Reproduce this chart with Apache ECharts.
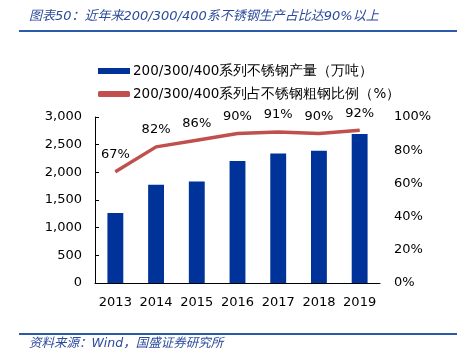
<!DOCTYPE html>
<html><head><meta charset="utf-8">
<script src="https://cdn.jsdelivr.net/npm/echarts@6/dist/echarts.min.js"></script>
<style>html,body{margin:0;padding:0;background:#fff}#c{width:457px;height:362px}</style>
</head><body><div id="c"></div>
<script>
const years = ['2013','2014','2015','2016','2017','2018','2019'];
const output = [1265, 1777, 1836, 2205, 2340, 2390, 2695];
const share = [67, 82, 86, 90, 91, 90, 92];
const barName = '200/300/400系列不锈钢产量（万吨）';
const lineName = '200/300/400系列占不锈钢粗钢比例（%）';
const titleText = '图表50：近年来200/300/400系不锈钢生产占比达90%以上';
const sourceText = '资料来源：Wind，国盛证券研究所';

const chart = echarts.init(document.getElementById('c'));
const font = 'DejaVu Sans, Verdana, sans-serif';
chart.setOption({
  animation: false,
  textStyle: {fontFamily: font},
  graphic: [
    {type:'text', left: 29, top: 10, style:{text: titleText, fill:'#2b4a9c', font:'italic 13px "DejaVu Sans", "Noto Sans CJK SC", sans-serif'}},
    {type:'rect', shape:{x:19, y:30, width:438, height:2}, style:{fill:'#2a5aa8'}},
    {type:'rect', shape:{x:19, y:333, width:438, height:2}, style:{fill:'#2a5aa8'}},
    {type:'text', left: 29, top: 337, style:{text: sourceText, fill:'#2b4a9c', font:'italic 12.5px "DejaVu Sans", "Noto Sans CJK SC", sans-serif'}}
  ],
  legend: {
    orient: 'vertical', left: 93, top: 59, itemGap: 9,
    itemWidth: 32, itemHeight: 6,
    textStyle: {fontSize: 13.5, color: '#000', fontFamily: font, padding: [0, 0, 0, -2]},
    data: [{name: barName, icon: 'rect'}, {name: lineName, icon: 'roundRect'}]
  },
  grid: {left: 95, right: 77, top: 117, bottom: 79},
  xAxis: {
    type: 'category', data: years,
    axisLine: {lineStyle: {color: '#000', width: 1}},
    axisTick: {show: false},
    axisLabel: {color: '#000', fontSize: 13, margin: 13, interval: 0}
  },
  yAxis: [
    {type: 'value', min: 0, max: 3000, interval: 500,
     axisLine: {show: true, lineStyle: {color: '#000'}},
     axisTick: {show: true, inside: true, length: 4, lineStyle: {color: '#000'}},
     splitLine: {show: false},
     axisLabel: {color: '#000', fontSize: 13, margin: 13, formatter: v => v.toLocaleString('en-US')}},
    {type: 'value', min: 0, max: 100, interval: 20,
     axisLine: {show: false}, axisTick: {show: false}, splitLine: {show: false},
     axisLabel: {color: '#000', fontSize: 13, margin: 14, formatter: '{value}%'}}
  ],
  series: [
    {name: barName, type: 'bar', data: output, barWidth: '39%',
     itemStyle: {color: '#003399'}},
    {name: lineName, type: 'line', yAxisIndex: 1, data: share,
     symbol: 'circle', symbolSize: 1, showSymbol: true,
     lineStyle: {color: '#c0504d', width: 3.5},
     itemStyle: {color: '#c0504d'},
     label: {show: true, position: 'top', distance: 10, color: '#000', fontSize: 13, formatter: '{c}%'}}
  ]
});
</script></body></html>
